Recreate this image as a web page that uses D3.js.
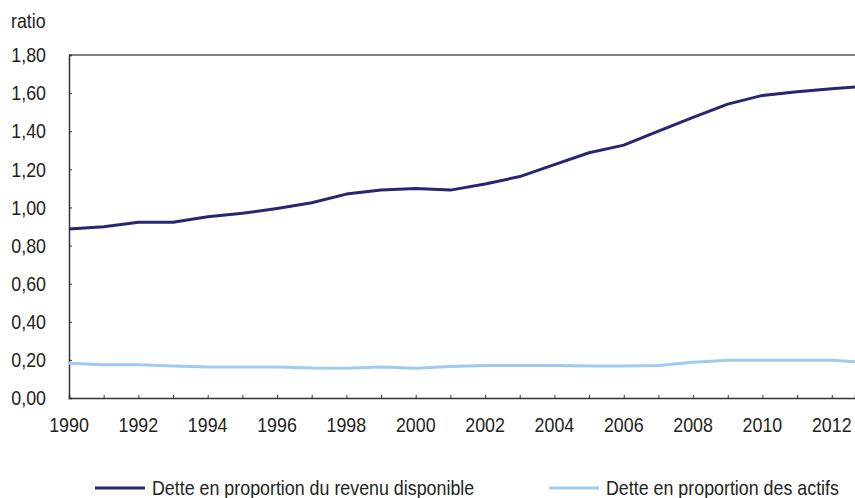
<!DOCTYPE html>
<html>
<head>
<meta charset="utf-8">
<script src="https://cdn.jsdelivr.net/npm/d3@7"></script>
<style>
  body { margin: 0; background: #fff; }
  text { font-family: "Liberation Sans", Arial, sans-serif; fill: #231f20; }
  .narrow { transform-box: fill-box; }
  .n-left { transform-origin: left center; transform: scaleX(0.85); }
  .n-right { transform-origin: right center; transform: scaleX(0.85); }
  .n-mid { transform-origin: center center; transform: scaleX(0.85); }
</style>
</head>
<body>
<svg width="855" height="498"></svg>
<script>
// data
var years = [1990, 1991, 1992, 1993, 1994, 1995, 1996, 1997, 1998, 1999, 2000, 2001,
             2002, 2003, 2004, 2005, 2006, 2007, 2008, 2009, 2010, 2011, 2012, 2012.67];
var detteRevenu = [0.887, 0.899, 0.922, 0.922, 0.951, 0.969, 0.995, 1.025, 1.070, 1.091, 1.100, 1.091,
                   1.123, 1.162, 1.225, 1.287, 1.327, 1.401, 1.473, 1.542, 1.588, 1.607, 1.623, 1.632];
var detteActifs = [0.182, 0.174, 0.174, 0.168, 0.163, 0.163, 0.163, 0.157, 0.156, 0.163, 0.156, 0.165,
                   0.170, 0.170, 0.170, 0.168, 0.168, 0.171, 0.187, 0.198, 0.198, 0.198, 0.198, 0.190];
var yTicks = [0, 0.2, 0.4, 0.6, 0.8, 1.0, 1.2, 1.4, 1.6, 1.8];
var xTicks = d3.range(1990, 2013);
var xLabels = d3.range(1990, 2013, 2);
var seriesNames = ["Dette en proportion du revenu disponible", "Dette en proportion des actifs"];
var colors = ["#262673", "#a0cbee"];

var svg = d3.select("svg");
var mLeft = 69, mRight = 855, mTop = 55, mBottom = 398;

var x = d3.scaleLinear().domain([1990, 2012.67]).range([mLeft, mRight]);
var y = d3.scaleLinear().domain([0, 1.8]).range([mBottom, mTop]);
var fmt = function(d) { return d3.format(".2f")(d).replace(".", ","); };

// top frame line
svg.append("line")
  .attr("x1", mLeft).attr("x2", mRight)
  .attr("y1", y(1.8)).attr("y2", y(1.8))
  .attr("stroke", "#555").attr("stroke-width", 1.5);

// y axis
var yAxis = svg.append("g")
  .attr("transform", "translate(" + mLeft + ",0)")
  .call(d3.axisLeft(y).tickValues(yTicks).tickSize(-3).tickPadding(23).tickFormat(fmt));
yAxis.select(".domain").attr("stroke", "#333").attr("stroke-width", 1.5);
yAxis.selectAll(".tick line").attr("stroke", "#333").attr("stroke-width", 1);
yAxis.selectAll("text").attr("font-size", 21).attr("font-family", null)
  .attr("class", "narrow n-right");

// x axis
var xAxis = svg.append("g")
  .attr("transform", "translate(0," + mBottom + ")")
  .call(d3.axisBottom(x).tickValues(xTicks).tickSize(-3).tickFormat(""));
xAxis.select(".domain").attr("stroke", "#333").attr("stroke-width", 1.5);
xAxis.selectAll(".tick line").attr("stroke", "#333").attr("stroke-width", 1);

svg.append("g").selectAll("text")
  .data(xLabels)
  .enter().append("text")
    .attr("class", "narrow n-mid")
    .attr("x", function(d) { return x(d); })
    .attr("y", mBottom + 34)
    .attr("text-anchor", "middle")
    .attr("font-size", 21)
    .text(function(d) { return d; });

// unit label
svg.append("text")
  .attr("class", "narrow n-left")
  .attr("x", 11).attr("y", 28)
  .attr("font-size", 21)
  .text("ratio");

// lines
var line = function(vals) {
  return d3.line()
    .x(function(d, i) { return x(years[i]); })
    .y(function(d) { return y(d); })(vals);
};
[detteActifs, detteRevenu].forEach(function(vals, k) {
  svg.append("path")
    .attr("d", line(vals))
    .attr("fill", "none")
    .attr("stroke", k === 0 ? colors[1] : colors[0])
    .attr("stroke-width", 3)
    .attr("stroke-linejoin", "round");
});

// legend
var legendX = [95, 549];
seriesNames.forEach(function(name, i) {
  var g = svg.append("g").attr("transform", "translate(" + legendX[i] + ",488)");
  g.append("line")
    .attr("x1", 0).attr("x2", 50)
    .attr("stroke", colors[i]).attr("stroke-width", 3);
  g.append("text")
    .attr("class", "narrow n-left")
    .attr("x", 57).attr("y", 7)
    .attr("font-size", 21)
    .text(name);
});
</script>
</body>
</html>
